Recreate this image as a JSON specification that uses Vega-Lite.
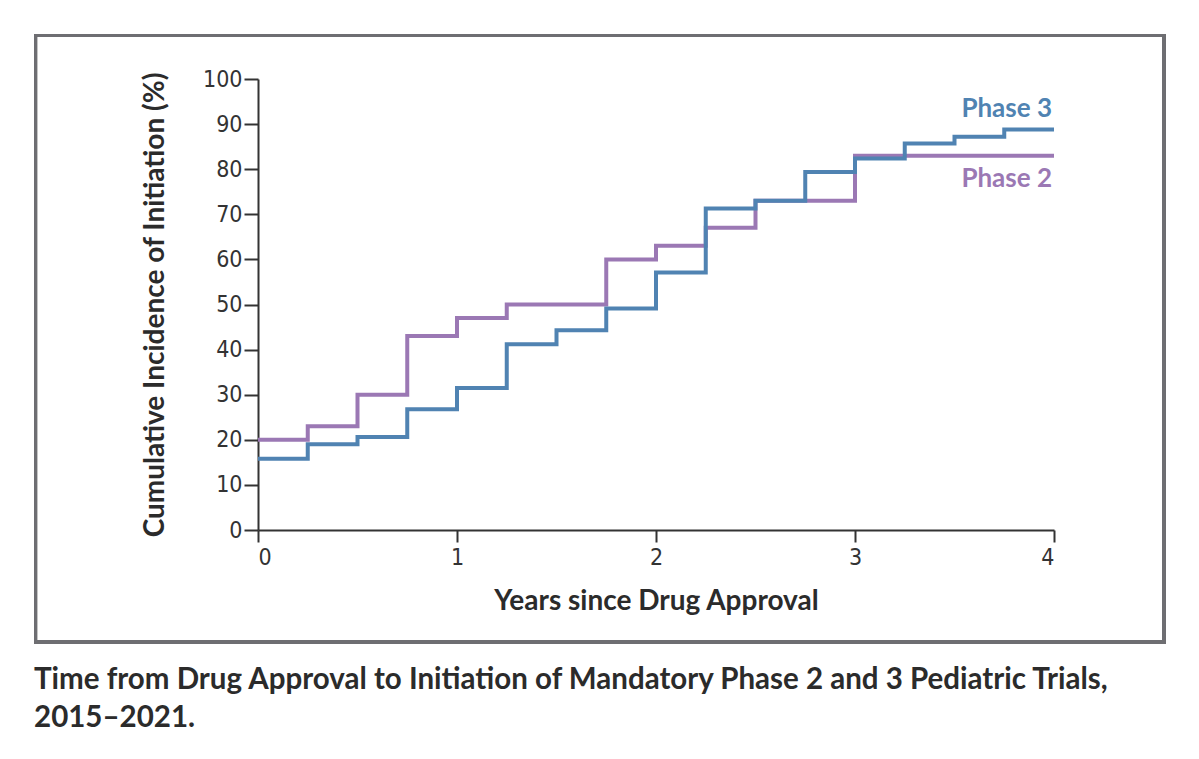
{
  "$schema": "https://vega.github.io/schema/vega-lite/v6.json",
  "width": 796,
  "height": 451,
  "autosize": {"type": "none"},
  "padding": {"left": 258, "top": 79, "right": 145, "bottom": 229},
  "background": "white",
  "config": {
    "view": {"stroke": null},
    "font": "Lato",
    "axis": {
      "domainColor": "#333333",
      "domainWidth": 2,
      "tickColor": "#333333",
      "tickWidth": 2,
      "grid": false,
      "labelFont": "DejaVu Sans Condensed, DejaVu Sans",
      "labelFontSize": 23,
      "labelColor": "#333333",
      "titleFont": "Lato",
      "titleFontWeight": "bold",
      "titleFontSize": 28,
      "titleColor": "#2b2b2b"
    }
  },
  "title": {
    "text": ["Time from Drug Approval to Initiation of Mandatory Phase 2 and 3 Pediatric Trials,", "2015–2021."],
    "orient": "bottom",
    "anchor": "start",
    "frame": "bounds",
    "font": "Lato",
    "fontSize": 29.5,
    "fontWeight": "bold",
    "color": "#2b2b2b",
    "lineHeight": 38,
    "offset": 22
  },
  "data": {
    "values": [
      {"series": "Phase 2", "years": 0, "pct": 20},
      {"series": "Phase 2", "years": 0.25, "pct": 23},
      {"series": "Phase 2", "years": 0.5, "pct": 30},
      {"series": "Phase 2", "years": 0.75, "pct": 43},
      {"series": "Phase 2", "years": 1, "pct": 47},
      {"series": "Phase 2", "years": 1.25, "pct": 50},
      {"series": "Phase 2", "years": 1.75, "pct": 60},
      {"series": "Phase 2", "years": 2, "pct": 63},
      {"series": "Phase 2", "years": 2.25, "pct": 67},
      {"series": "Phase 2", "years": 2.5, "pct": 73},
      {"series": "Phase 2", "years": 3, "pct": 83},
      {"series": "Phase 2", "years": 4, "pct": 83},
      {"series": "Phase 3", "years": 0, "pct": 15.8},
      {"series": "Phase 3", "years": 0.25, "pct": 19},
      {"series": "Phase 3", "years": 0.5, "pct": 20.6},
      {"series": "Phase 3", "years": 0.75, "pct": 26.8},
      {"series": "Phase 3", "years": 1, "pct": 31.5},
      {"series": "Phase 3", "years": 1.25, "pct": 41.2},
      {"series": "Phase 3", "years": 1.5, "pct": 44.3},
      {"series": "Phase 3", "years": 1.75, "pct": 49.1},
      {"series": "Phase 3", "years": 2, "pct": 57.1},
      {"series": "Phase 3", "years": 2.25, "pct": 71.3},
      {"series": "Phase 3", "years": 2.5, "pct": 73},
      {"series": "Phase 3", "years": 2.75, "pct": 79.4},
      {"series": "Phase 3", "years": 3, "pct": 82.4},
      {"series": "Phase 3", "years": 3.25, "pct": 85.7},
      {"series": "Phase 3", "years": 3.5, "pct": 87.2},
      {"series": "Phase 3", "years": 3.75, "pct": 88.8},
      {"series": "Phase 3", "years": 4, "pct": 88.8}
    ]
  },
  "encoding": {
    "x": {
      "field": "years",
      "type": "quantitative",
      "scale": {"domain": [0, 4], "nice": false, "zero": false},
      "axis": {"values": [0, 1, 2, 3, 4], "title": "Years since Drug Approval", "tickSize": 12, "labelPadding": 4, "titlePadding": 18, "format": "d"}
    },
    "y": {
      "field": "pct",
      "type": "quantitative",
      "scale": {"domain": [0, 100], "nice": false, "zero": false},
      "axis": {"values": [0, 10, 20, 30, 40, 50, 60, 70, 80, 90, 100], "title": "Cumulative Incidence of Initiation (%)", "tickSize": 14, "labelPadding": 2, "titlePadding": 33}
    }
  },
  "layer": [
    {
      "mark": {"type": "rect", "fill": null, "filled": false, "stroke": "#6e6e72", "strokeWidth": 3, "clip": false},
      "encoding": {
        "x": {"datum": -1.118},
        "x2": {"datum": 4.553},
        "y": {"datum": 109.66},
        "y2": {"datum": -24.86}
      }
    },
    {
      "mark": {"type": "line", "interpolate": "step-after", "strokeWidth": 4},
      "encoding": {
        "color": {
          "field": "series",
          "type": "nominal",
          "scale": {"domain": ["Phase 2", "Phase 3"], "range": ["#9b78b4", "#5083b2"]},
          "legend": null
        }
      }
    },
    {
      "transform": [{"filter": "datum.series === 'Phase 3' && datum.years === 4"}],
      "mark": {"type": "text", "align": "right", "baseline": "middle", "dx": -2, "dy": -21, "font": "Lato", "fontWeight": "bold", "fontSize": 26, "color": "#5083b2"},
      "encoding": {"text": {"field": "series"}}
    },
    {
      "transform": [{"filter": "datum.series === 'Phase 2' && datum.years === 4"}],
      "mark": {"type": "text", "align": "right", "baseline": "middle", "dx": -2, "dy": 23, "font": "Lato", "fontWeight": "bold", "fontSize": 26, "color": "#9b78b4"},
      "encoding": {"text": {"field": "series"}}
    }
  ]
}
